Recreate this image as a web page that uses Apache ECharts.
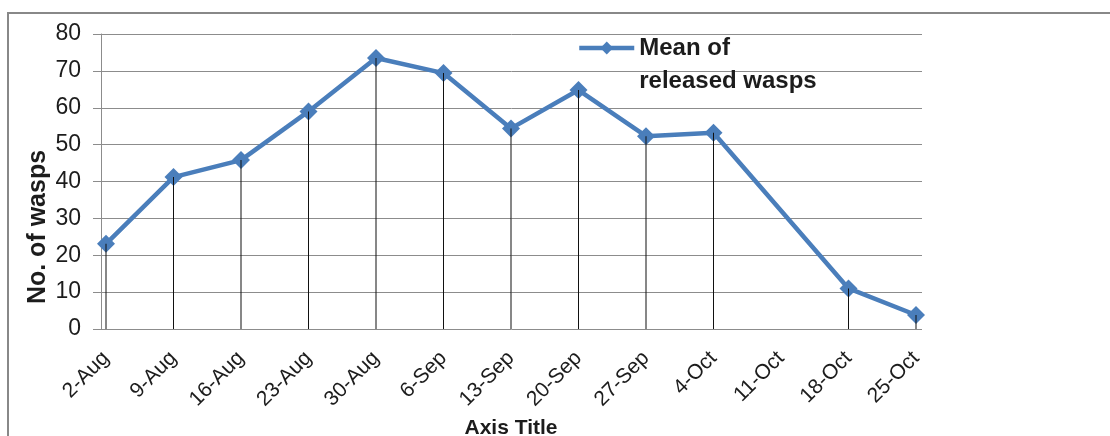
<!DOCTYPE html>
<html>
<head>
<meta charset="utf-8">
<script src="https://cdn.jsdelivr.net/npm/echarts@6/dist/echarts.min.js"></script>
<style>
html,body{margin:0;padding:0;background:#fff;}
#chart{width:1110px;height:436px;}
</style>
</head>
<body>
<div id="chart"></div>
<script>
var categories = ['2-Aug','9-Aug','16-Aug','23-Aug','30-Aug','6-Sep','13-Sep','20-Sep','27-Sep','4-Oct','11-Oct','18-Oct','25-Oct'];
var meanReleased = [23.1, 41.2, 45.8, 59.0, 73.5, 69.4, 54.4, 64.8, 52.3, 53.2, null, 11.0, 3.8];
var yTicks = [0, 10, 20, 30, 40, 50, 60, 70, 80];

var FONT = '"Liberation Sans", Arial, sans-serif';
var TXT = '#1c1c1c';
var GRIDC = '#8c8c8c';
var BLUE = '#4a7ebb';

var chart = echarts.init(document.getElementById('chart'));
chart.setOption({
  animation: false,
  backgroundColor: '#fff',
  grid: [
    {left: 101, right: 188, top: 34, bottom: 107, containLabel: false, outerBoundsMode: 'none'},
    {left: 106, right: 194, top: 34, bottom: 107, containLabel: false, outerBoundsMode: 'none'}
  ],
  xAxis: [
    {gridIndex: 0, type: 'value', show: false, min: 0, max: 1},
    {
      gridIndex: 1, type: 'category', data: categories, boundaryGap: false,
      axisLine: {show: false}, axisTick: {show: false},
      splitLine: {show: false},
      axisLabel: {rotate: 45, interval: 0, fontSize: 21, color: TXT, fontFamily: FONT, margin: 26},
      name: 'Axis Title', nameLocation: 'middle', nameGap: 89,
      nameTextStyle: {fontSize: 21, fontWeight: 'bold', color: TXT, fontFamily: FONT}
    }
  ],
  yAxis: [
    {
      gridIndex: 0, type: 'value', min: yTicks[0], max: yTicks[yTicks.length - 1], interval: 10,
      axisLine: {show: true, lineStyle: {color: GRIDC, width: 1}},
      axisTick: {show: true, length: 8, lineStyle: {color: GRIDC}},
      splitLine: {show: true, lineStyle: {color: GRIDC, width: 1}},
      axisLabel: {fontSize: 23, color: TXT, fontFamily: FONT, margin: 20}
    },
    {gridIndex: 1, type: 'value', min: yTicks[0], max: yTicks[yTicks.length - 1], show: false}
  ],
  legend: {
    data: ['Mean of released wasps'],
    left: 577, top: 36, padding: 0,
    itemWidth: 55, itemHeight: 16,
    lineStyle: {color: BLUE, width: 4.5},
    itemStyle: {color: BLUE},
    formatter: function () { return '{a|Mean of}\n{a|released wasps}'; },
    textStyle: {
      padding: [33, 0, 0, 0],
      rich: {a: {fontSize: 24, fontWeight: 'bold', color: TXT, fontFamily: FONT, lineHeight: 33}}
    }
  },
  graphic: [
    {type: 'rect', shape: {x: 8, y: 13, width: 1110, height: 440}, style: {fill: 'none', stroke: '#888', lineWidth: 2}, silent: true, z: -1},
    {type: 'text', x: 38, y: 227, rotation: Math.PI / 2,
     style: {text: 'No. of wasps', font: 'bold 25px ' + FONT, fill: TXT, align: 'center', verticalAlign: 'middle'}}
  ],
  series: [
    {
      name: 'Mean of released wasps', type: 'line', xAxisIndex: 1, yAxisIndex: 1,
      data: meanReleased, connectNulls: true,
      symbol: 'diamond', symbolSize: 18,
      lineStyle: {color: BLUE, width: 4.5},
      itemStyle: {color: BLUE},
      z: 2
    },
    {
      name: 'drop', type: 'bar', xAxisIndex: 1, yAxisIndex: 1,
      data: meanReleased, barWidth: 1,
      itemStyle: {color: '#111'},
      z: 3, silent: true
    }
  ]
});
</script>
</body>
</html>
